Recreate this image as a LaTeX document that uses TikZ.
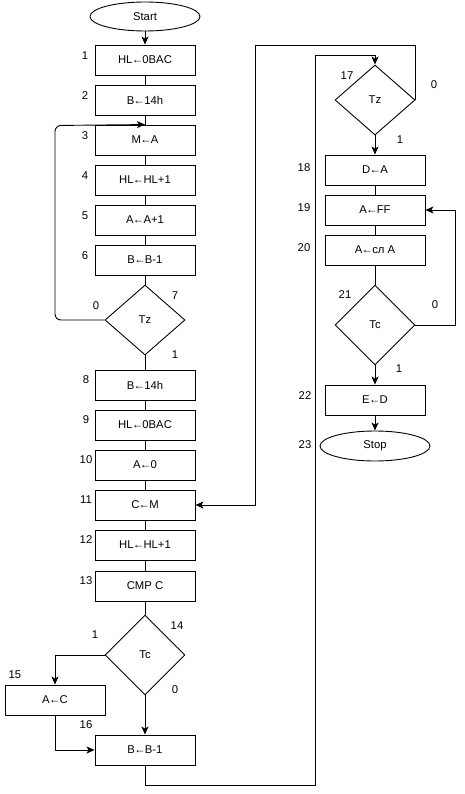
\documentclass[tikz,border=0pt]{standalone}
\usepackage{fontspec}
\setmainfont{Liberation Sans}
\usetikzlibrary{shapes.geometric,arrows.meta}
\newcommand{\myla}{\kern-0.7pt←\kern-0.7pt}
\begin{document}
\begin{tikzpicture}[x=1pt,y=-1pt,
  every node/.style={font=\fontsize{11.3}{13}\selectfont},
  box/.style={draw, line width=0.9pt, minimum width=100pt, minimum height=30pt, inner sep=0pt},
  dia/.style={draw, line width=0.9pt, diamond, minimum width=80pt, inner sep=0pt},
  term/.style={draw, line width=0.9pt, ellipse, minimum width=110pt, minimum height=29pt, inner sep=0pt},
  lbl/.style={inner sep=0pt},
  conn/.style={line width=0.9pt},
  arr/.style={conn, -{Stealth[length=8pt,width=7pt,inset=2pt]}}]
\useasboundingbox (0,0) rectangle (464,794);
% left column
\node[term] (start) at (145,16.5) {Start};
\node[box] (b1) at (145,60) {HL\myla 0BAC};
\node[box] (b2) at (145,100) {B\myla 14h};
\node[box] (b3) at (145,140) {M\myla A};
\node[box] (b4) at (145,180) {HL\myla HL+1};
\node[box] (b5) at (145,220) {A\myla A+1};
\node[box] (b6) at (145,260) {B\myla B-1};
\node[dia, minimum height=70pt] (d7) at (145,320) {Tz};
\node[box] (b8) at (145,385) {B\myla 14h};
\node[box] (b9) at (145,425) {HL\myla 0BAC};
\node[box] (b10) at (145,465) {A\myla 0};
\node[box] (b11) at (145,505) {C\myla M};
\node[box] (b12) at (145,545) {HL\myla HL+1};
\node[box] (b13) at (145,586) {CMP C};
\node[dia, minimum height=80pt] (d14) at (145,655) {Tc};
\node[box] (b15) at (55,700) {A\myla C};
\node[box] (b16) at (145,750) {B\myla B-1};
% right column
\node[dia, minimum height=70pt] (d17) at (375,100) {Tz};
\node[box] (b18) at (375,170) {D\myla A};
\node[box] (b19) at (375,210) {A\myla FF};
\node[box] (b20) at (375,250) {A\myla сл A};
\node[dia, minimum height=80pt] (d21) at (375,325) {Tc};
\node[box] (b22) at (375,400) {E\myla D};
\node[term, minimum height=30pt] (stop) at (375,446) {Stop};
% labels
\node[lbl] (n1) at (85,56) {1};
\node[lbl] (n2) at (85,96) {2};
\node[lbl] (n3) at (85,136) {3};
\node[lbl] (n4) at (85,176) {4};
\node[lbl] (n5) at (85,216) {5};
\node[lbl] (n6) at (85,256) {6};
\node[lbl] (n7) at (175,296) {7};
\node[lbl] (n7a) at (96,306) {0};
\node[lbl] (n7b) at (175,355) {1};
\node[lbl] (n8) at (86,380) {8};
\node[lbl] (n9) at (86,420) {9};
\node[lbl] (n10) at (86,460) {10};
\node[lbl] (n11) at (86,500) {11};
\node[lbl] (n12) at (86,540) {12};
\node[lbl] (n13) at (86,581) {13};
\node[lbl] (n14) at (177,626) {14};
\node[lbl] (n14a) at (95,635) {1};
\node[lbl] (n14b) at (175,690) {0};
\node[lbl] (n15) at (15,675) {15};
\node[lbl] (n16) at (86,725) {16};
\node[lbl] (n17) at (347,76) {17};
\node[lbl] (n17a) at (434,85) {0};
\node[lbl] (n17b) at (400,140) {1};
\node[lbl] (n18) at (304,168) {18};
\node[lbl] (n19) at (304,208) {19};
\node[lbl] (n20) at (304,248) {20};
\node[lbl] (n21) at (345,295) {21};
\node[lbl] (n21a) at (435,305) {0};
\node[lbl] (n21b) at (399,369) {1};
\node[lbl] (n22) at (305,396) {22};
\node[lbl] (n23) at (305,445) {23};
% coordinates
\coordinate (cl) at (55,125.5);
\coordinate (r1) at (315,785);
\coordinate (r2) at (315,55);
\coordinate (r3) at (255,45);
\coordinate (r5) at (455,325);
% connectors left
\draw[arr] (start) -- (b1);
\draw[conn] (b1) -- (b2);
\draw[conn] (b2) -- (b3);
\draw[conn] (b3) -- (b4);
\draw[conn] (b4) -- (b5);
\draw[conn] (b5) -- (b6);
\draw[conn] (b6) -- (d7);
\draw[arr, rounded corners=6pt] (d7.west) -| (cl) -- (b3.north);
\draw[conn] (d7.south) -- (b8.north);
\draw[conn] (b8) -- (b9);
\draw[conn] (b9) -- (b10);
\draw[conn] (b10) -- (b11);
\draw[conn] (b11) -- (b12);
\draw[conn] (b12) -- (b13);
\draw[conn] (b13) -- (d14);
\draw[arr] (d14.west) -| (b15.north);
\draw[arr] (d14.south) -- (b16.north);
\draw[arr] (b15.south) |- (b16.west);
\draw[arr] (b16.south) |- (r1) -- (r2) -| (d17.north);
% right
\draw[arr] (d17.east) |- (r3) |- (b11.east);
\draw[arr] (d17.south) -- (b18.north);
\draw[conn] (b18) -- (b19);
\draw[conn] (b19) -- (b20);
\draw[conn] (b20) -- (d21);
\draw[arr] (d21.east) -- (r5) |- (b19.east);
\draw[arr] (d21.south) -- (b22.north);
\draw[arr] (b22.south) -- (stop.north);
\end{tikzpicture}
\end{document}
